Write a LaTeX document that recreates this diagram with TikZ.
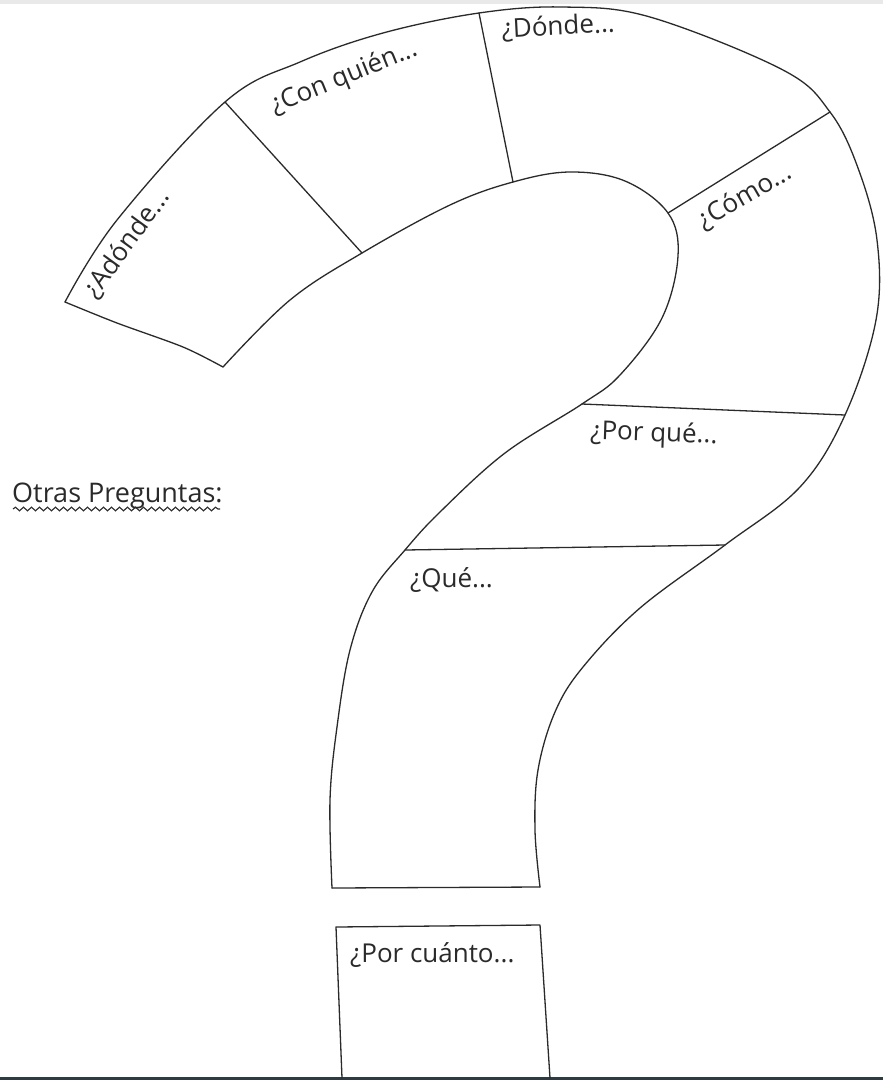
\documentclass[tikz,border=0pt]{standalone}
\usepackage{fontspec}
\newfontfamily\handfont{Open Sans}
\usetikzlibrary{decorations.pathmorphing}
\definecolor{ink}{HTML}{2A2A2A}
\definecolor{topband}{HTML}{E9E9E9}
\definecolor{botband}{HTML}{2E3B40}
\tikzset{
  outline/.style={draw=ink, line width=1.3pt, line join=round, line cap=round},
  lbl/.style={font=\handfont\fontsize{26}{28}\selectfont, text=ink, inner sep=0pt},
  wavy/.style={draw=ink, line width=1.1pt, decorate, decoration={snake, amplitude=1.8pt, segment length=8pt}}
}
\begin{document}
\begin{tikzpicture}[x=1pt, y=-1pt]
\path[use as bounding box, fill=white] (0,0) rectangle (883,1080);
\fill[topband] (0,0) rectangle (883,4);
\fill[botband] (0,1077) rectangle (883,1080);

% named corner / divider points
\coordinate (adoOut) at (65,302);
\coordinate (adoIn) at (223,367);
\coordinate (conOut) at (225,102);
\coordinate (conIn) at (362,253);
\coordinate (donOut) at (479,13);
\coordinate (donIn) at (513,182);
\coordinate (comOut) at (830,112);
\coordinate (comIn) at (668,213);
\coordinate (porOut) at (845,415);
\coordinate (porIn) at (582,404);
\coordinate (queOut) at (725,545);
\coordinate (queIn) at (405,550);
\coordinate (stemR) at (540,887);
\coordinate (stemL) at (332,888);
\coordinate (boxTL) at (336,927);
\coordinate (boxTR) at (540,925);
\coordinate (boxBR) at (550,1078);
\coordinate (boxBL) at (342,1078);
\coordinate (ulA) at (13,509);
\coordinate (ulB) at (220,509);

% outer curve of the question mark
\draw[outline] plot[smooth, tension=0.6] coordinates {
  (adoOut) (117,220) (conOut) (300,62) (383,33) (donOut) (563,7) (650,17)
  (783,70) (comOut) (858,168) (877,240) (876,320) (porOut) (800,487)
  (queOut) (640,608) (583,667) (555,712) (538,770) (535,830) (stemR)};

% inner curve of the question mark
\draw[outline] plot[smooth, tension=0.6] coordinates {
  (adoIn) (290,300) (conIn) (450,205) (donIn) (570,172) (625,181) (comIn)
  (678,256) (662,318) (620,375) (porIn) (505,453) (440,512) (queIn)
  (372,592) (350,650) (337,727) (330,800) (stemL)};

% end of the hook
\draw[outline] plot[smooth, tension=0.5] coordinates {(adoOut) (117,323) (183,347) (adoIn)};
% bottom of the stem
\draw[outline] (stemL) -- (stemR);

% dividers
\draw[outline] (conOut) -- (conIn);
\draw[outline] (donOut) -- (donIn);
\draw[outline] (comIn) -- (comOut);
\draw[outline] (porIn) -- (porOut);
\draw[outline] (queIn) -- (queOut);

% the dot
\draw[outline] (boxBL) -- (boxTL) -- (boxTR) -- (boxBR);

% labels
\node[lbl, rotate=54] (tAdonde) at (127,244) {¿Adónde...};
\node[lbl, rotate=22] (tCon) at (344,78) {¿Con quién...};
\node[lbl, rotate=3, anchor=base west] (tDonde) at (502,38) {¿Dónde...};
\node[lbl, rotate=30] (tComo) at (745,197) {¿Cómo...};
\node[lbl, rotate=-2, anchor=base west] (tPorque) at (590,439) {¿Por qué...};
\node[lbl, anchor=base west] (tQue) at (410,587) {¿Qué...};
\node[lbl, anchor=base west] (tCuanto) at (350,962) {¿Por cuánto...};
\node[lbl, anchor=base west, font=\handfont\fontsize{27}{29}\selectfont] (tOtras) at (12,502) {Otras Preguntas:};
\draw[wavy] (ulA) -- (ulB);
\end{tikzpicture}
\end{document}
